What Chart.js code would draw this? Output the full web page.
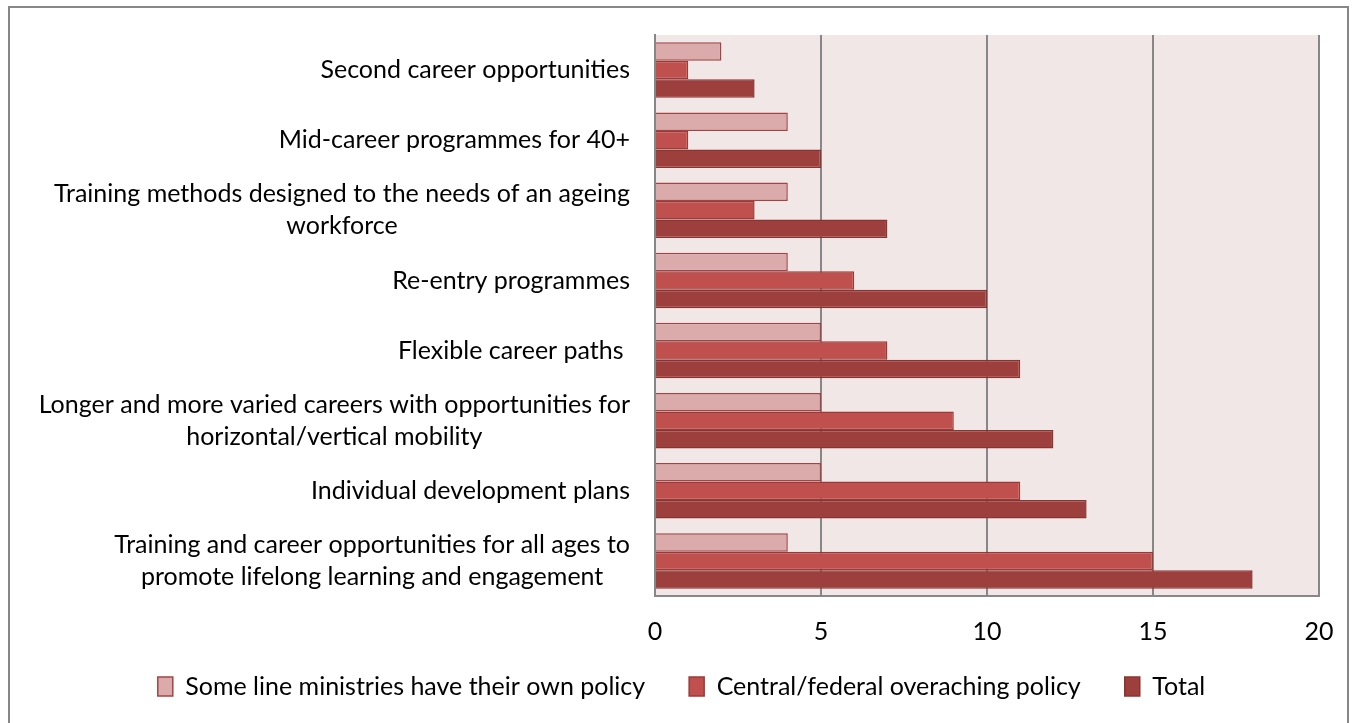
<!DOCTYPE html>
<html>
<head>
<meta charset="utf-8">
<script src="https://cdn.jsdelivr.net/npm/chart.js@4"></script>
<style>
  body { margin: 0; background: #fff; }
  canvas { position: absolute; left: 0; top: 0; }
</style>
</head>
<body>
<canvas id="myChart" width="1355" height="723"></canvas>
<script>
const categorias = [
  ['Second career opportunities'],
  ['Mid-career programmes for 40+'],
  ['Training methods designed to the needs of an ageing', 'workforce'],
  ['Re-entry programmes'],
  ['Flexible career paths '],
  ['Longer and more varied careers with opportunities for', 'horizontal/vertical mobility'],
  ['Individual development plans'],
  ['Training and career opportunities for all ages to', 'promote lifelong learning and engagement']
];
const ministerios = [2, 4, 4, 4, 5, 5, 5, 4];
const central = [1, 1, 3, 6, 7, 9, 11, 15];
const total = [3, 5, 7, 10, 11, 12, 13, 18];
const ticksX = [0, 5, 10, 15, 20];

const FONTE = 'Lato, "Open Sans", sans-serif';
const TAM = 25;

// fundo do grafico, moldura e rotulos das categorias
const extras = {
  id: 'extras',
  afterLayout(chart) {
    // deixa os numeros do eixo x passarem por cima da area da legenda
    chart.scales.x.bottom += 40;
  },
  beforeDraw(chart) {
    const ctx = chart.ctx;
    const a = chart.chartArea;
    ctx.save();
    ctx.fillStyle = '#f2e7e7';
    ctx.fillRect(a.left, a.top, a.right - a.left, a.bottom - a.top);
    ctx.strokeStyle = '#878787';
    ctx.lineWidth = 2;
    ctx.strokeRect(9, 7, 1339, 730);
    ctx.restore();
  },
  afterDraw(chart) {
    const ctx = chart.ctx;
    const y = chart.scales.y;
    ctx.save();
    ctx.font = TAM + 'px ' + FONTE;
    ctx.fillStyle = '#000';
    ctx.textAlign = 'center';
    ctx.textBaseline = 'middle';
    const direita = 630;
    const alturaLinha = 32;
    categorias.forEach(function (linhas, i) {
      const cy = y.getPixelForTick(i);
      let larg = 0;
      for (let l of linhas) larg = Math.max(larg, ctx.measureText(l).width);
      const cx = direita - larg / 2;
      linhas.forEach(function (l, j) {
        ctx.fillText(l, cx, cy + (j - (linhas.length - 1) / 2) * alturaLinha);
      });
    });
    ctx.restore();
  }
};

const data = {
  labels: categorias.map(c => c.join(' ')),
  datasets: [{
    label: 'Some line ministries have their own policy',
    backgroundColor: '#dbabab',
    borderColor: '#a34444',
    borderWidth: 1.5,
    data: ministerios
  }, {
    label: 'Central/federal overaching policy',
    backgroundColor: '#c0504d',
    borderColor: '#9a3a38',
    borderWidth: 1.5,
    data: central
  }, {
    label: 'Total',
    backgroundColor: '#9c3f3d',
    borderColor: '#8a3432',
    borderWidth: 1.5,
    data: total
  }]
};

const config = {
  type: 'bar',
  data: data,
  plugins: [extras],
  options: {
    responsive: false,
    animation: false,
    indexAxis: 'y',
    categoryPercentage: 0.79,
    barPercentage: 1.0,
    layout: { padding: { top: 35, right: 36, left: 44, bottom: 14 } },
    scales: {
      x: {
        min: 0,
        max: 20,
        afterBuildTicks(s) { s.ticks = ticksX.map(v => ({ value: v })); },
        afterFit(s) { s.height = 34; },
        ticks: { color: '#000', font: { family: FONTE, size: TAM }, padding: 21 },
        grid: { color: '#878787', lineWidth: 2, drawTicks: false },
        border: { color: '#878787', width: 2 }
      },
      y: {
        afterFit(s) { s.width = 611; },
        ticks: { display: false },
        grid: { display: false, drawTicks: false },
        border: { color: '#878787', width: 2 }
      }
    },
    plugins: {
      legend: {
        position: 'bottom',
        labels: {
          color: '#000',
          font: { family: FONTE, size: TAM },
          boxWidth: 15,
          boxHeight: 19,
          padding: 44
        }
      },
      tooltip: { enabled: false }
    }
  }
};

new Chart(document.getElementById('myChart'), config);
</script>
</body>
</html>
